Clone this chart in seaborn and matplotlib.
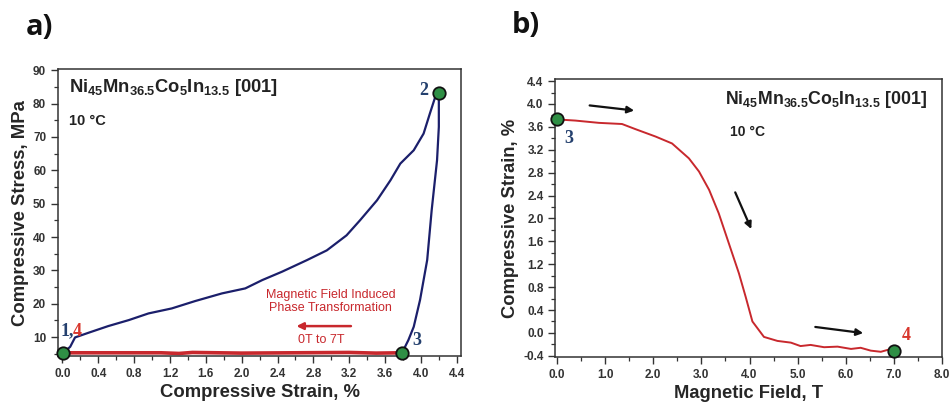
import numpy as np
import pandas as pd
import matplotlib
matplotlib.use("Agg")
import matplotlib.pyplot as plt
from matplotlib.ticker import MultipleLocator, FormatStrFormatter
import seaborn as sns

# ---------------- data ----------------
# panel a) loading then unloading (blue)
load_strain = [0.01, 0.086, 0.14, 0.29, 0.51, 0.74, 0.96, 1.22, 1.48, 1.78, 2.04, 2.23,
               2.45, 2.73, 2.95, 3.17, 3.32, 3.51, 3.66, 3.77, 3.92, 4.03, 4.10, 4.16, 4.20,
               4.20, 4.18, 4.12, 4.07, 3.99, 3.92, 3.86, 3.79]
load_stress = [5.3, 7.1, 9.9, 11.3, 13.3, 15.1, 17.1, 18.6, 20.8, 23.1, 24.6, 27.1,
               29.6, 33.1, 36.0, 40.5, 45.0, 51.0, 57.0, 62.0, 66.0, 71.0, 77.0, 82.0, 83.1,
               73.0, 63.0, 48.0, 33.1, 21.1, 13.1, 9.1, 5.3]
# panel a) field-induced recovery (red)
field_strain = [3.79, 3.5, 3.2, 2.6, 2.0, 1.45, 1.3, 1.1, 0.6, 0.0]
field_stress = [5.3, 5.2, 5.4, 5.3, 5.2, 5.4, 5.1, 5.3, 5.3, 5.3]
# panel a) marked states
pts_a_strain = [0.01, 4.20, 3.79]
pts_a_stress = [5.3, 83.1, 5.3]

# panel b) strain vs magnetic field
field_T = [0.00, 0.38, 0.87, 1.35, 1.63, 2.05, 2.39, 2.74, 2.95, 3.16, 3.36, 3.50, 3.64,
           3.78, 3.92, 4.06, 4.30, 4.58, 4.86, 5.06, 5.27, 5.55, 5.83, 6.11, 6.31, 6.52,
           6.73, 6.90, 7.01]
strain_b = [3.73, 3.71, 3.67, 3.65, 3.56, 3.43, 3.31, 3.05, 2.82, 2.50, 2.09, 1.74, 1.39,
            1.04, 0.63, 0.20, -0.07, -0.14, -0.17, -0.23, -0.21, -0.25, -0.24, -0.28,
            -0.26, -0.31, -0.33, -0.29, -0.31]
pts_b_field = [0.0, 7.01]
pts_b_strain = [3.73, -0.31]

alloy = r'Ni$_{45}$Mn$_{36.5}$Co$_{5}$In$_{13.5}$ [001]'
temp = '10 °C'

# ---------------- style ----------------
sns.set_style("ticks")
plt.rcParams['font.family'] = ['Liberation Sans', 'DejaVu Sans']
plt.rcParams['mathtext.fontset'] = 'custom'
plt.rcParams['mathtext.rm'] = 'Liberation Sans:bold'
plt.rcParams['mathtext.it'] = 'Liberation Sans:bold'
plt.rcParams['mathtext.bf'] = 'Liberation Sans:bold'

NAVY = '#1b1f6b'
RED = '#c8282d'
GREEN = '#2f8f45'
NUMNAVY = '#24406e'
NUMRED = '#d8362c'

fig = plt.figure(figsize=(9.51, 4.07), dpi=100)
axA = fig.add_axes([0.061, 0.125, 0.424, 0.705])
axB = fig.add_axes([0.584, 0.123, 0.4065, 0.682])

def style_axes(ax):
    for s in ax.spines.values():
        s.set_linewidth(1.1)
        s.set_color('#333333')
    ax.tick_params(which='major', direction='out', length=5, width=1, colors='#333333',
                   labelsize=8.5)
    ax.tick_params(which='minor', direction='out', length=3, width=0.9, colors='#333333')
    for lab in ax.get_xticklabels() + ax.get_yticklabels():
        lab.set_fontweight('bold')
        lab.set_color('#333333')

# ---------------- panel a ----------------
dfa_load = pd.DataFrame({'strain': load_strain, 'stress': load_stress})
dfa_field = pd.DataFrame({'strain': field_strain, 'stress': field_stress})
dfa_pts = pd.DataFrame({'strain': pts_a_strain, 'stress': pts_a_stress})

sns.lineplot(data=dfa_field, x='strain', y='stress', sort=False, color=RED, lw=2.6,
             ax=axA, estimator=None)
sns.lineplot(data=dfa_load, x='strain', y='stress', sort=False, color=NAVY, lw=1.6,
             ax=axA, estimator=None)
sns.scatterplot(data=dfa_pts, x='strain', y='stress', s=80, color=GREEN,
                edgecolor='#111111', linewidth=1.3, ax=axA, zorder=5, clip_on=False)

axA.set_xlim(-0.05, 4.45)
axA.set_ylim(4.3, 90.3)
axA.xaxis.set_major_locator(MultipleLocator(0.4))
axA.xaxis.set_minor_locator(MultipleLocator(0.2))
axA.yaxis.set_minor_locator(MultipleLocator(5))
axA.set_yticks([10, 20, 30, 40, 50, 60, 70, 80, 90])
axA.xaxis.set_major_formatter(FormatStrFormatter('%.1f'))
axA.set_xlabel('Compressive Strain, %', fontsize=13.3, fontweight='bold', labelpad=3)
axA.set_ylabel('Compressive Stress, MPa', fontsize=13.3, fontweight='bold', labelpad=3)
style_axes(axA)

axA.text(0.07, 84.9, alloy, fontsize=13.2, fontweight='bold', color='#222222', va='center')
axA.text(0.07, 74.7, temp, fontsize=10.5, fontweight='bold', color='#222222', va='center')
axA.text(-0.02, 11.8, '1,', fontsize=13, fontweight='bold', color=NUMNAVY,
         family='Liberation Serif', ha='left', va='center')
axA.text(0.12, 11.8, '4', fontsize=13, fontweight='bold', color=NUMRED,
         family='Liberation Serif', ha='left', va='center')
axA.text(4.08, 84.0, '2', fontsize=13, fontweight='bold', color=NUMNAVY,
         family='Liberation Serif', ha='right', va='center')
axA.text(3.90, 9.0, '3', fontsize=13, fontweight='bold', color=NUMNAVY,
         family='Liberation Serif', ha='left', va='center')
axA.text(2.99, 20.7, 'Magnetic Field Induced\nPhase Transformation', fontsize=9,
         color=RED, ha='center', va='center', linespacing=1.2)
axA.annotate('', xy=(2.58, 13.3), xytext=(3.25, 13.3),
             arrowprops=dict(arrowstyle='-|>', color=RED, lw=1.8, mutation_scale=10))
axA.text(2.89, 9.1, '0T to 7T', fontsize=9, color=RED, ha='center', va='center')

# ---------------- panel b ----------------
dfb = pd.DataFrame({'field': field_T, 'strain': strain_b})
dfb_pts = pd.DataFrame({'field': pts_b_field, 'strain': pts_b_strain})
sns.lineplot(data=dfb, x='field', y='strain', sort=False, color=RED, lw=1.4, ax=axB,
             estimator=None)
sns.scatterplot(data=dfb_pts, x='field', y='strain', s=80, color=GREEN,
                edgecolor='#111111', linewidth=1.3, ax=axB, zorder=5, clip_on=False)

axB.set_xlim(-0.035, 8.0)
axB.set_ylim(-0.42, 4.43)
axB.xaxis.set_major_locator(MultipleLocator(1.0))
axB.xaxis.set_minor_locator(MultipleLocator(0.5))
axB.yaxis.set_minor_locator(MultipleLocator(0.2))
axB.set_yticks(np.round(np.arange(-0.4, 4.41, 0.4), 1))
axB.xaxis.set_major_formatter(FormatStrFormatter('%.1f'))
axB.yaxis.set_major_formatter(FormatStrFormatter('%.1f'))
axB.set_xlabel('Magnetic Field, T', fontsize=13.2, fontweight='bold', labelpad=3)
axB.set_ylabel('Compressive Strain, %', fontsize=13.2, fontweight='bold', labelpad=3)
style_axes(axB)

axB.text(3.5, 4.07, alloy, fontsize=12.8, fontweight='bold', color='#222222', va='center')
axB.text(3.59, 3.51, temp, fontsize=10, fontweight='bold', color='#222222', va='center')
axB.text(0.24, 3.40, '3', fontsize=13, fontweight='bold', color=NUMNAVY,
         family='Liberation Serif', ha='center', va='center')
axB.text(7.25, -0.04, '4', fontsize=13, fontweight='bold', color=NUMRED,
         family='Liberation Serif', ha='center', va='center')
for (x0, y0, x1, y1) in [(0.62, 3.98, 1.66, 3.88), (3.68, 2.50, 4.06, 1.77),
                         (5.31, 0.11, 6.42, -0.01)]:
    axB.annotate('', xy=(x1, y1), xytext=(x0, y0),
                 arrowprops=dict(arrowstyle='-|>', color='#111111', lw=1.6,
                                 mutation_scale=10))

# panel letters
fig.text(0.027, 0.914, 'a)', fontsize=21, fontweight='bold', color='#111111',
         family=['Open Sans', 'DejaVu Sans'])
fig.text(0.538, 0.92, 'b)', fontsize=21, fontweight='bold', color='#111111',
         family=['Open Sans', 'DejaVu Sans'])

fig.savefig('out.png', dpi=100)
